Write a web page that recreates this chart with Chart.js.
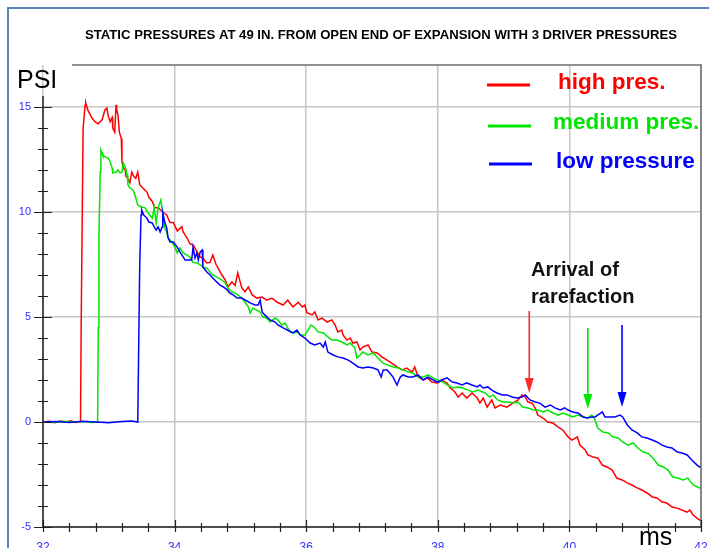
<!DOCTYPE html>
<html>
<head>
<meta charset="utf-8">
<script src="https://cdn.jsdelivr.net/npm/chart.js@4.4.1/dist/chart.umd.min.js"></script>
<style>
  html, body { margin: 0; padding: 0; background: #ffffff; }
  canvas { display: block; }
</style>
</head>
<body>
<canvas id="chart" width="709" height="548"></canvas>
<script>
// ---- Static pressure traces (time in ms, pressure in PSI) ----
const highTime = [32.00,32.10,32.18,32.26,32.35,32.42,32.50,32.57,32.58,32.60,32.61,32.64,32.65,32.68,32.74,32.79,32.84,32.90,32.94,32.97,32.99,33.02,33.05,33.06,33.09,33.11,33.12,33.14,33.16,33.19,33.20,33.22,33.25,33.26,33.29,33.32,33.35,33.38,33.41,33.44,33.47,33.50,33.53,33.58,33.61,33.66,33.70,33.75,33.82,33.88,33.93,33.98,34.04,34.11,34.13,34.19,34.23,34.29,34.34,34.39,34.43,34.49,34.54,34.58,34.63,34.66,34.72,34.77,34.81,34.87,34.92,34.96,35.02,35.07,35.12,35.18,35.25,35.33,35.40,35.48,35.56,35.65,35.72,35.80,35.88,35.94,35.98,36.01,36.09,36.13,36.18,36.24,36.32,36.39,36.44,36.48,36.54,36.56,36.62,36.67,36.71,36.77,36.82,36.86,36.94,37.00,37.08,37.15,37.23,37.30,37.38,37.46,37.53,37.61,37.65,37.70,37.78,37.84,37.91,37.99,38.06,38.14,38.19,38.26,38.31,38.37,38.44,38.52,38.60,38.64,38.69,38.75,38.82,38.87,38.95,39.05,39.14,39.22,39.28,39.33,39.37,39.43,39.48,39.52,39.60,39.67,39.75,39.83,39.90,39.98,40.04,40.12,40.16,40.24,40.28,40.36,40.43,40.50,40.57,40.65,40.72,40.80,40.88,40.95,41.03,41.10,41.18,41.26,41.33,41.41,41.48,41.56,41.64,41.71,41.79,41.83,41.88,41.98,42.00];
const highPsi = [0.00,0.03,-0.03,0.05,0.00,0.06,-0.02,0.02,4.5,11.0,14.0,15.1,15.2,14.86,14.5,14.3,14.2,14.4,14.86,14.95,14.6,14.3,14.5,14.0,13.8,15.1,14.86,14.6,13.8,13.5,12.4,12.1,12.0,11.7,11.6,11.4,11.9,11.7,11.6,11.9,11.3,11.2,11.1,10.95,10.7,10.5,10.2,10.2,10.0,9.86,9.5,9.5,9.1,9.3,9.05,8.76,8.5,8.4,8.1,7.86,7.8,7.57,7.6,7.95,7.5,7.33,7.0,6.76,6.43,6.67,6.5,7.1,6.4,6.2,6.43,6.05,5.9,5.95,5.8,5.9,5.7,5.57,5.8,5.48,5.7,5.48,5.57,5.2,5.1,5.24,4.86,4.95,4.76,4.86,4.62,4.29,4.38,4.14,3.9,4.0,3.76,3.81,3.43,3.57,3.67,3.33,3.29,3.1,2.95,2.8,2.62,2.48,2.57,2.38,2.62,2.14,2.0,2.1,1.9,1.86,2.0,1.86,1.62,1.43,1.19,1.38,1.14,1.38,1.14,0.9,1.14,0.71,1.05,0.67,0.81,0.71,0.9,1.05,1.29,1.19,0.95,0.9,0.67,0.33,0.19,0.0,-0.05,-0.24,-0.38,-0.71,-0.86,-0.71,-1.1,-1.33,-1.57,-1.67,-1.71,-2.05,-2.14,-2.29,-2.67,-2.76,-2.9,-3.0,-3.14,-3.24,-3.38,-3.57,-3.62,-3.81,-3.86,-4.05,-4.1,-4.19,-4.29,-4.19,-4.43,-4.67,-4.70];

const mediumTime = [32.00,32.15,32.30,32.45,32.60,32.75,32.83,32.84,32.85,32.87,32.88,32.90,32.91,32.96,32.99,33.02,33.05,33.06,33.11,33.14,33.17,33.20,33.22,33.25,33.28,33.29,33.32,33.37,33.41,33.44,33.50,33.55,33.60,33.66,33.69,33.72,33.75,33.79,33.82,33.85,33.88,33.90,33.96,34.01,34.04,34.08,34.13,34.19,34.23,34.28,34.34,34.39,34.43,34.49,34.54,34.58,34.64,34.72,34.77,34.81,34.87,34.92,34.96,35.02,35.07,35.12,35.15,35.19,35.25,35.30,35.34,35.40,35.45,35.53,35.57,35.63,35.68,35.75,35.80,35.86,35.91,35.98,36.03,36.07,36.12,36.18,36.26,36.33,36.39,36.47,36.54,36.62,36.67,36.74,36.77,36.82,36.86,36.94,37.02,37.09,37.17,37.24,37.32,37.40,37.47,37.55,37.62,37.70,37.78,37.85,37.93,38.00,38.08,38.15,38.23,38.31,38.38,38.46,38.53,38.61,38.72,38.79,38.84,38.91,38.99,39.07,39.14,39.22,39.29,39.37,39.45,39.52,39.60,39.67,39.75,39.83,39.90,39.98,40.05,40.13,40.21,40.28,40.34,40.39,40.43,40.51,40.59,40.66,40.74,40.81,40.89,40.97,41.04,41.12,41.19,41.27,41.35,41.43,41.50,41.57,41.65,41.73,41.80,41.88,41.98,42.00];
const mediumPsi = [0.00,-0.02,0.03,0.00,0.02,-0.02,0.00,4.5,8.9,11.9,12.95,12.8,12.7,12.6,12.57,12.4,12.1,11.86,11.9,12.0,11.86,11.9,12.33,12.14,11.76,11.3,11.14,11.05,10.67,10.33,10.24,10.2,9.95,9.7,10.2,9.48,10.2,10.57,9.95,9.24,9.05,8.76,8.57,8.29,8.05,8.29,8.05,7.95,7.86,7.6,7.57,7.48,7.38,7.33,7.14,7.0,6.9,6.76,6.62,6.38,6.19,6.14,6.05,5.9,5.7,5.48,5.19,5.43,5.33,5.24,5.0,4.95,4.76,4.95,4.86,4.62,4.71,4.3,4.24,4.29,4.14,4.14,4.38,4.62,4.52,4.29,4.24,4.05,3.9,3.9,3.81,3.67,3.76,3.52,3.05,3.19,3.33,3.19,3.29,3.05,2.8,2.71,2.62,2.57,2.48,2.38,2.33,2.14,2.14,2.24,2.1,2.0,1.9,1.76,1.62,1.67,1.62,1.52,1.43,1.52,1.38,1.19,1.29,1.05,0.95,0.95,0.9,0.95,0.71,0.67,0.57,0.57,0.48,0.57,0.43,0.33,0.43,0.33,0.24,0.33,0.24,0.19,0.33,0.1,-0.29,-0.48,-0.52,-0.71,-0.76,-0.95,-1.1,-1.0,-1.24,-1.43,-1.48,-1.71,-2.05,-2.14,-2.29,-2.62,-2.67,-2.76,-2.67,-3.0,-3.14,-3.15];

const lowTime = [32.00,32.20,32.40,32.60,32.80,33.00,33.20,33.35,33.44,33.47,33.49,33.50,33.53,33.58,33.61,33.66,33.69,33.72,33.75,33.78,33.81,33.82,33.85,33.88,33.90,33.93,33.98,34.04,34.08,34.13,34.16,34.20,34.26,34.28,34.31,34.34,34.36,34.39,34.42,34.43,34.49,34.54,34.58,34.64,34.69,34.74,34.80,34.84,34.89,34.95,35.02,35.07,35.15,35.22,35.27,35.30,35.33,35.37,35.45,35.53,35.57,35.65,35.75,35.80,35.86,35.91,35.98,36.06,36.13,36.21,36.26,36.29,36.33,36.41,36.48,36.56,36.64,36.71,36.79,36.86,36.94,37.02,37.09,37.14,37.17,37.23,37.27,37.32,37.38,37.43,37.47,37.55,37.62,37.70,37.78,37.85,37.93,38.00,38.06,38.14,38.22,38.29,38.37,38.44,38.52,38.60,38.64,38.69,38.76,38.82,38.90,38.98,39.05,39.13,39.20,39.28,39.33,39.40,39.48,39.55,39.63,39.71,39.78,39.86,39.93,39.98,40.05,40.13,40.21,40.27,40.34,40.39,40.43,40.50,40.54,40.62,40.69,40.77,40.81,40.88,40.95,41.03,41.10,41.18,41.26,41.33,41.41,41.48,41.56,41.64,41.71,41.79,41.86,41.94,41.98,42.00];
const lowPsi = [0.00,0.02,-0.02,0.03,0.00,-0.03,0.02,0.05,0.00,7.5,9.86,10.1,9.86,9.7,9.52,9.48,9.29,9.14,9.29,9.05,9.29,9.95,9.52,9.24,8.8,8.57,8.57,8.33,8.1,7.86,7.71,7.71,7.71,8.33,7.81,8.05,7.71,8.1,8.19,7.38,7.14,7.0,6.86,6.67,6.52,6.43,6.29,6.14,6.05,5.9,5.9,5.81,5.67,5.57,5.57,5.81,5.24,5.1,4.86,4.76,4.62,4.48,4.32,4.24,4.38,4.14,4.0,3.76,3.67,3.76,3.57,3.81,3.33,3.19,3.1,3.05,2.95,2.8,2.62,2.57,2.62,2.57,2.48,2.14,2.48,2.48,2.33,2.14,1.76,2.14,2.24,2.14,2.14,2.24,2.0,2.14,2.0,1.9,2.0,2.1,1.9,1.86,1.76,1.86,1.76,1.67,1.76,1.62,1.67,1.52,1.38,1.29,1.29,1.19,1.14,1.19,1.29,1.05,0.95,0.9,0.71,0.81,0.67,0.57,0.67,0.57,0.48,0.43,0.24,0.19,0.24,0.24,0.33,0.48,0.24,0.24,0.24,0.33,0.24,-0.14,-0.38,-0.52,-0.71,-0.76,-0.86,-0.95,-1.1,-1.19,-1.24,-1.43,-1.48,-1.57,-1.81,-2.05,-2.14,-2.15];

// ---- Series names and colours ----
const seriesNames = ['high pres.', 'medium pres.', 'low pressure'];
const seriesColors = ['#ff0000', '#00e600', '#0000ff'];

// ---- Rarefaction arrival markers: time, arrow tail and tip pressure ----
const arrivalTime = [39.39, 40.28, 40.80];
const arrivalTail = [5.29, 4.48, 4.62];
const arrivalTip = [1.38, 0.62, 0.71];
const arrivalColors = ['#ff2a2a', '#00e600', '#0000ff'];

// ---- Axis ticks ----
const xMajorTicks = [32, 34, 36, 38, 40, 42];
const yMajorTicks = [-5, 0, 5, 10, 15];
const xMinorStep = 0.4;
const yMinorStep = 1;

const titleText = 'STATIC PRESSURES AT 49 IN. FROM OPEN END OF EXPANSION WITH 3 DRIVER PRESSURES';

function toPoints(t, p) { return t.map((v, i) => ({ x: v, y: p[i] })); }

const traces = [toPoints(highTime, highPsi), toPoints(mediumTime, mediumPsi), toPoints(lowTime, lowPsi)];

const decorations = {
  id: 'decorations',
  afterDraw(chart) {
    const ctx = chart.ctx;
    const xs = chart.scales.x, ys = chart.scales.y;
    const area = chart.chartArea;
    ctx.save();

    // outer frame edge (left and top)
    ctx.strokeStyle = '#5b80b2';
    ctx.lineWidth = 2;
    ctx.beginPath();
    ctx.moveTo(8, 548); ctx.lineTo(8, 8); ctx.lineTo(709, 8);
    ctx.stroke();

    // plot frame: top and right border
    ctx.strokeStyle = '#6e6e6e';
    ctx.lineWidth = 1.5;
    ctx.beginPath();
    ctx.moveTo(72, area.top); ctx.lineTo(area.right, area.top);
    ctx.lineTo(area.right, area.bottom);
    ctx.stroke();

    // axes
    ctx.strokeStyle = '#222';
    ctx.lineWidth = 1.5;
    ctx.beginPath();
    ctx.moveTo(area.left, area.bottom); ctx.lineTo(area.right, area.bottom);
    ctx.moveTo(area.left, area.top + 31); ctx.lineTo(area.left, area.bottom);
    ctx.stroke();

    // y ticks crossing the axis
    ctx.lineWidth = 1.2;
    ctx.beginPath();
    for (let v = ys.min; v <= 15 + 1e-6; v += yMinorStep) {
      const py = Math.round(ys.getPixelForValue(v)) + 0.5;
      const major = yMajorTicks.includes(Math.round(v));
      const len = major ? 9 : 5;
      ctx.moveTo(area.left - len, py); ctx.lineTo(area.left + len, py);
    }
    // x ticks crossing the axis
    for (let v = xs.min; v <= xs.max + 1e-6; v += xMinorStep) {
      const px = Math.round(xs.getPixelForValue(v)) + 0.5;
      const major = xMajorTicks.some(t => Math.abs(t - v) < 1e-6);
      ctx.moveTo(px, area.bottom - (major ? 7 : 4)); ctx.lineTo(px, area.bottom + 5);
    }
    ctx.stroke();

    // title, condensed to its set width
    ctx.fillStyle = '#000';
    ctx.font = 'bold 12.5px "Liberation Sans Narrow", "Liberation Sans", Arial, sans-serif';
    ctx.textBaseline = 'alphabetic';
    ctx.textAlign = 'left';
    const tw = ctx.measureText(titleText).width;
    const target = 592;
    ctx.save();
    ctx.translate(85, 38.5);
    ctx.scale(target / tw, 1);
    ctx.fillText(titleText, 0, 0);
    ctx.restore();

    // axis names
    ctx.font = '25px "Liberation Sans", Arial, sans-serif';
    ctx.fillText('PSI', 17, 88);
    ctx.fillText('ms', 639, 545);

    // legend
    ctx.font = 'bold 22.5px "Liberation Sans", Arial, sans-serif';
    const legendY = [85, 126, 164];
    const textBase = [89, 129, 168];
    const textX = [558, 553, 556];
    for (let i = 0; i < 3; i++) {
      ctx.strokeStyle = seriesColors[i];
      ctx.lineWidth = 3;
      ctx.beginPath();
      ctx.moveTo(487 + i, legendY[i]); ctx.lineTo(530 + i, legendY[i]);
      ctx.stroke();
      ctx.fillStyle = seriesColors[i];
      ctx.fillText(seriesNames[i], textX[i], textBase[i]);
    }

    // annotation text
    ctx.fillStyle = '#111';
    ctx.font = 'bold 20px "Liberation Sans", Arial, sans-serif';
    ctx.fillText('Arrival of', 531, 276);
    ctx.fillText('rarefaction', 531, 303);

    // arrival arrows
    for (let i = 0; i < arrivalTime.length; i++) {
      const px = xs.getPixelForValue(arrivalTime[i]);
      const yTail = ys.getPixelForValue(arrivalTail[i]);
      const yTip = ys.getPixelForValue(arrivalTip[i]);
      const head = 15;
      ctx.strokeStyle = arrivalColors[i];
      ctx.fillStyle = arrivalColors[i];
      ctx.lineWidth = 1.6;
      ctx.beginPath();
      ctx.moveTo(px, yTail); ctx.lineTo(px, yTip - head + 1);
      ctx.stroke();
      ctx.beginPath();
      ctx.moveTo(px - 4.5, yTip - head);
      ctx.lineTo(px + 4.5, yTip - head);
      ctx.lineTo(px, yTip);
      ctx.closePath();
      ctx.fill();
    }
    ctx.restore();
  }
};

new Chart(document.getElementById('chart'), {
  type: 'scatter',
  data: {
    datasets: traces.map((pts, i) => ({
      label: seriesNames[i],
      data: pts,
      showLine: true,
      borderColor: seriesColors[i],
      backgroundColor: seriesColors[i],
      borderWidth: 1.5,
      pointRadius: 0,
      pointHoverRadius: 0,
      tension: 0,
      order: 2 - i
    }))
  },
  options: {
    responsive: false,
    animation: false,
    devicePixelRatio: 1,
    events: [],
    layout: { padding: { left: 0, right: 8, top: 65, bottom: 0 } },
    plugins: { legend: { display: false }, title: { display: false }, tooltip: { enabled: false } },
    scales: {
      x: {
        type: 'linear',
        min: 32, max: 42,
        afterFit(s) { s.height = 21; s.paddingLeft = 0; s.paddingRight = 0; },
        afterBuildTicks(s) { s.ticks = xMajorTicks.map(v => ({ value: v })); },
        grid: { color: '#c6c6c6', lineWidth: 1.5, drawTicks: false },
        border: { display: false },
        ticks: {
          autoSkip: false, maxRotation: 0, padding: 13,
          color: '#2f2fff',
          font: { family: '"Liberation Sans", Arial, sans-serif', size: 12 }
        }
      },
      y: {
        type: 'linear',
        min: -5, max: 17,
        afterFit(s) { s.width = 43; s.paddingTop = 0; s.paddingBottom = 0; },
        afterBuildTicks(s) { s.ticks = yMajorTicks.map(v => ({ value: v })); },
        grid: { color: '#c6c6c6', lineWidth: 1.5, drawTicks: false },
        border: { display: false },
        ticks: {
          autoSkip: false, padding: 12,
          color: '#2f2fff',
          font: { family: '"Liberation Sans", Arial, sans-serif', size: 11 }
        }
      }
    }
  },
  plugins: [decorations]
});
</script>
</body>
</html>
